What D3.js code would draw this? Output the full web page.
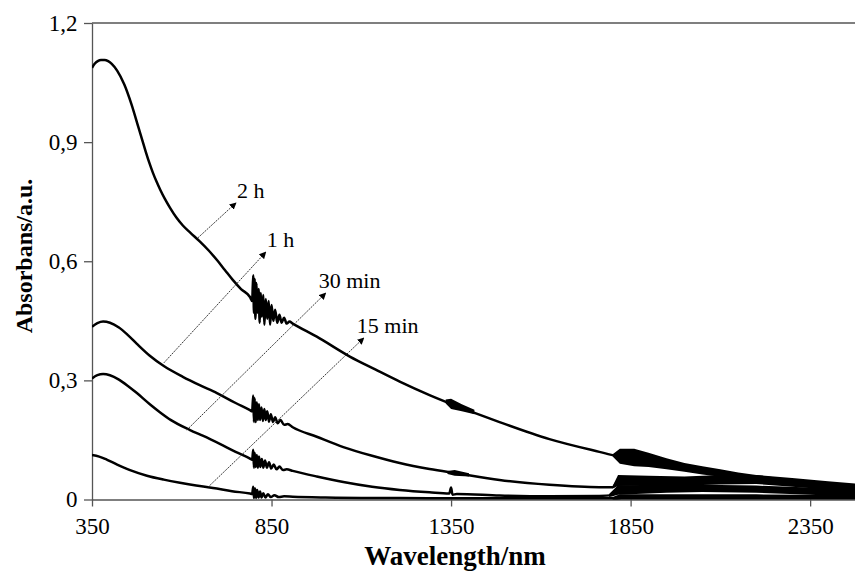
<!DOCTYPE html>
<meta charset="utf-8"/>
<head>
<style>
  body { margin:0; background:#fff; }
  text { font-family: "Liberation Serif", "Times New Roman", serif; fill:#000; }
</style>
<script src="https://d3js.org/d3.v7.min.js" charset="utf-8"></script>
</head>
<body>
<script>
// spectra: [wavelength nm, absorbance]
var spec2h = [[350,1.087],[358,1.098],[366,1.104],[375,1.107],[385,1.107],[395,1.104],[405,1.097],[420,1.080],[440,1.045],[460,0.995],[480,0.935],[490,0.905],[500,0.875],[510,0.847],[520,0.822],[530,0.800],[540,0.780],[553,0.757],[567,0.735],[585,0.710],[603,0.690],[625,0.671],[650,0.650],[675,0.627],[698,0.603],[720,0.578],[742,0.553],[765,0.530],[790,0.510],
  [796,0.500],[799,0.565],[801,0.470],[803,0.555],[805,0.455],[808,0.545],[811,0.470],[814,0.530],[817,0.445],[820,0.520],[823,0.460],[827,0.515],[830,0.440],[834,0.505],[838,0.455],[842,0.500],[846,0.440],[850,0.490],[855,0.450],[860,0.478],[866,0.445],[872,0.465],[878,0.445],[885,0.458],[892,0.443],[900,0.448],
  [909,0.443],[976,0.410],[1068,0.360],[1140,0.327],[1207,0.297],[1290,0.263],[1366,0.235],[1485,0.195],[1624,0.152],[1763,0.120],[1810,0.110],[1860,0.105],[1900,0.099],[1994,0.080],[2133,0.058],[2273,0.043],[2380,0.034],[2500,0.027]];

var spec1h = [[350,0.435],[365,0.444],[381,0.448],[400,0.445],[425,0.433],[450,0.414],[475,0.392],[511,0.362],[550,0.336],[603,0.309],[650,0.288],[698,0.268],[750,0.243],[790,0.225],
  [796,0.222],[799,0.262],[801,0.195],[803,0.255],[806,0.195],[809,0.245],[812,0.200],[815,0.240],[818,0.200],[822,0.232],[826,0.198],[830,0.228],[834,0.200],[838,0.222],[843,0.196],[848,0.215],[854,0.195],[860,0.207],[867,0.192],[875,0.200],[885,0.188],[895,0.190],
  [909,0.182],[976,0.158],[1050,0.132],[1130,0.110],[1207,0.092],[1290,0.077],[1366,0.066],[1485,0.049],[1624,0.037],[1763,0.031],[1800,0.031],[1815,0.046],[1900,0.047],[2000,0.046],[2120,0.050],[2181,0.051],[2250,0.048],[2320,0.043],[2400,0.035],[2500,0.027]];

var spec30 = [[350,0.305],[365,0.313],[381,0.316],[400,0.313],[425,0.302],[450,0.286],[475,0.268],[511,0.240],[539,0.220],[570,0.200],[623,0.175],[660,0.160],[706,0.140],[750,0.120],[790,0.103],
  [796,0.100],[799,0.125],[801,0.080],[803,0.118],[806,0.082],[809,0.112],[812,0.080],[815,0.108],[819,0.082],[823,0.102],[827,0.080],[832,0.098],[837,0.080],[843,0.094],[849,0.078],[856,0.088],[864,0.076],[872,0.083],[882,0.074],[892,0.076],
  [909,0.072],[976,0.058],[1050,0.044],[1130,0.032],[1207,0.024],[1290,0.018],[1345,0.015],[1350,0.030],[1354,0.012],[1366,0.014],[1485,0.010],[1624,0.008],[1763,0.009],[1800,0.011],[1815,0.025],[1950,0.027],[2050,0.028],[2200,0.026],[2350,0.021],[2500,0.015]];

var spec15 = [[350,0.112],[370,0.108],[392,0.100],[420,0.088],[456,0.074],[503,0.060],[550,0.050],[595,0.042],[640,0.035],[687,0.029],[740,0.021],[790,0.015],
  [796,0.014],[799,0.032],[801,0.004],[804,0.028],[807,0.004],[810,0.024],[814,0.005],[818,0.020],[822,0.005],[827,0.016],[833,0.005],[840,0.013],[848,0.006],[858,0.011],[870,0.006],[885,0.008],
  [909,0.007],[1000,0.005],[1100,0.004],[1207,0.004],[1350,0.003],[1500,0.003],[1700,0.003],[1800,0.003],[1850,0.006],[2100,0.006],[2300,0.005],[2500,0.005]];

// noisy stretches: [wavelength, low, high]
var noise2h = [[1335,0.242,0.252],[1350,0.228,0.254],[1380,0.222,0.240],[1415,0.215,0.226],
  null,
  [1800,0.108,0.114],[1820,0.090,0.128],[1860,0.084,0.128],[1900,0.082,0.118],[1950,0.076,0.104],[2000,0.070,0.092],[2050,0.063,0.084],[2100,0.057,0.076],[2150,0.051,0.068],[2200,0.045,0.062],[2250,0.040,0.056],[2300,0.035,0.051],[2400,0.027,0.042],[2500,0.020,0.036]];
var noise1h = [[1340,0.064,0.072],[1360,0.060,0.074],[1400,0.058,0.066],
  null,
  [1800,0.028,0.034],[1815,0.034,0.062],[1900,0.035,0.060],[2000,0.035,0.058],[2100,0.038,0.062],[2200,0.039,0.062],[2300,0.032,0.054],[2400,0.025,0.046],[2500,0.018,0.038]];
var noise30 = [[1790,0.006,0.014],[1815,0.012,0.036],[1950,0.017,0.037],[2050,0.019,0.037],[2200,0.017,0.035],[2350,0.012,0.030],[2500,0.006,0.024]];
var noise15 = [[1800,0.000,0.006],[1820,0.000,0.013],[2000,0.000,0.013],[2200,0.000,0.013],[2500,0.000,0.011]];

var series = [spec2h, spec1h, spec30, spec15];
var noiseBands = [noise2h, noise1h, noise30, noise15];

// arrow annotations: label, from [nm, abs], to [nm, abs]
var labels = ["2 h", "1 h", "30 min", "15 min"];
var arrowFrom = [[645,0.659],[550,0.344],[614,0.175],[673,0.031]];
var arrowTo = [[751,0.747],[834,0.623],[1001,0.520],[1107,0.407]];

var xTicks = [350, 850, 1350, 1850, 2350];
var yTicks = [0, 0.3, 0.6, 0.9, 1.2];

var width = 855, height = 571;
var margin = {left: 92, top: 23, right: -9, bottom: 71.5};

var svg = d3.select("body").append("svg")
  .attr("width", width)
  .attr("height", height);

var x = d3.scaleLinear().domain([350, 2500]).range([margin.left, width - margin.right]);
var y = d3.scaleLinear().domain([0, 1.2]).range([height - margin.bottom, margin.top]);

var defs = svg.append("defs");
defs.append("clipPath").attr("id", "clip")
  .append("rect").attr("x", margin.left).attr("y", margin.top - 5)
  .attr("width", width - margin.left).attr("height", height - margin.bottom - margin.top + 6);

// top frame line
svg.append("line")
  .attr("x1", x(350)).attr("x2", width).attr("y1", y(1.2)).attr("y2", y(1.2))
  .attr("stroke", "#555").attr("stroke-width", 1.3);

var xAxis = svg.append("g")
  .attr("transform", "translate(0," + y(0) + ")")
  .call(d3.axisBottom(x).tickValues(xTicks).tickSize(7).tickFormat(d3.format("d")).tickSizeOuter(0));
var yAxis = svg.append("g")
  .attr("transform", "translate(" + x(350) + ",0)")
  .call(d3.axisLeft(y).tickValues(yTicks).tickSize(8).tickSizeOuter(0)
    .tickFormat(function(d){ return d === 0 ? "0" : d3.format(".1f")(d).replace(".", ","); }));

[xAxis, yAxis].forEach(function(g){
  g.select(".domain").attr("stroke", "#555").attr("stroke-width", 1.3);
  g.selectAll(".tick line").attr("stroke", "#555").attr("stroke-width", 1.3);
  g.selectAll("text").attr("font-family", "Liberation Serif, serif").attr("font-size", 23).attr("fill", "#111");
});
xAxis.selectAll("text").attr("dy", "1.05em");
yAxis.selectAll("text").attr("dx", "-0.15em");

var plot = svg.append("g").attr("clip-path", "url(#clip)");

var line = d3.line().curve(d3.curveMonotoneX)
  .x(function(d){ return x(d[0]); }).y(function(d){ return y(d[1]); });
var band = d3.area()
  .defined(function(d){ return d !== null; })
  .x(function(d){ return x(d[0]); })
  .y0(function(d){ return y(d[1]); })
  .y1(function(d){ return y(d[2]); });

noiseBands.forEach(function(nb){
  plot.append("path").attr("d", band(nb)).attr("fill", "#000");
});
series.forEach(function(s){
  plot.append("path").attr("d", line(s))
    .attr("fill", "none").attr("stroke", "#000")
    .attr("stroke-width", 2.5).attr("stroke-linejoin", "round");
});

// arrows
defs.append("marker")
  .attr("id", "head").attr("viewBox", "0 0 10 10")
  .attr("refX", 9).attr("refY", 5)
  .attr("markerWidth", 7).attr("markerHeight", 7)
  .attr("markerUnits", "userSpaceOnUse")
  .attr("orient", "auto")
  .append("path").attr("d", "M0,0L10,5L0,10z").attr("fill", "#000");

labels.forEach(function(lab, i){
  var a = arrowFrom[i], b = arrowTo[i];
  svg.append("line")
    .attr("x1", x(a[0])).attr("y1", y(a[1]))
    .attr("x2", x(b[0])).attr("y2", y(b[1]))
    .attr("stroke", "#222").attr("stroke-width", 0.9)
    .attr("stroke-dasharray", "2,1")
    .attr("marker-end", "url(#head)");
  svg.append("text")
    .attr("x", x(b[0]) + (i < 2 ? 1 : -7))
    .attr("y", y(b[1]) - 5)
    .attr("font-size", 22)
    .text(lab);
});

// axis titles
svg.append("text")
  .attr("x", 455).attr("y", 565)
  .attr("text-anchor", "middle")
  .attr("font-weight", "bold").attr("font-size", 27)
  .text("Wavelength/nm");

svg.append("text")
  .attr("transform", "translate(32,256) rotate(-90)")
  .attr("text-anchor", "middle")
  .attr("font-weight", "bold").attr("font-size", 24)
  .text("Absorbans/a.u.");
</script>
</body>
</html>
